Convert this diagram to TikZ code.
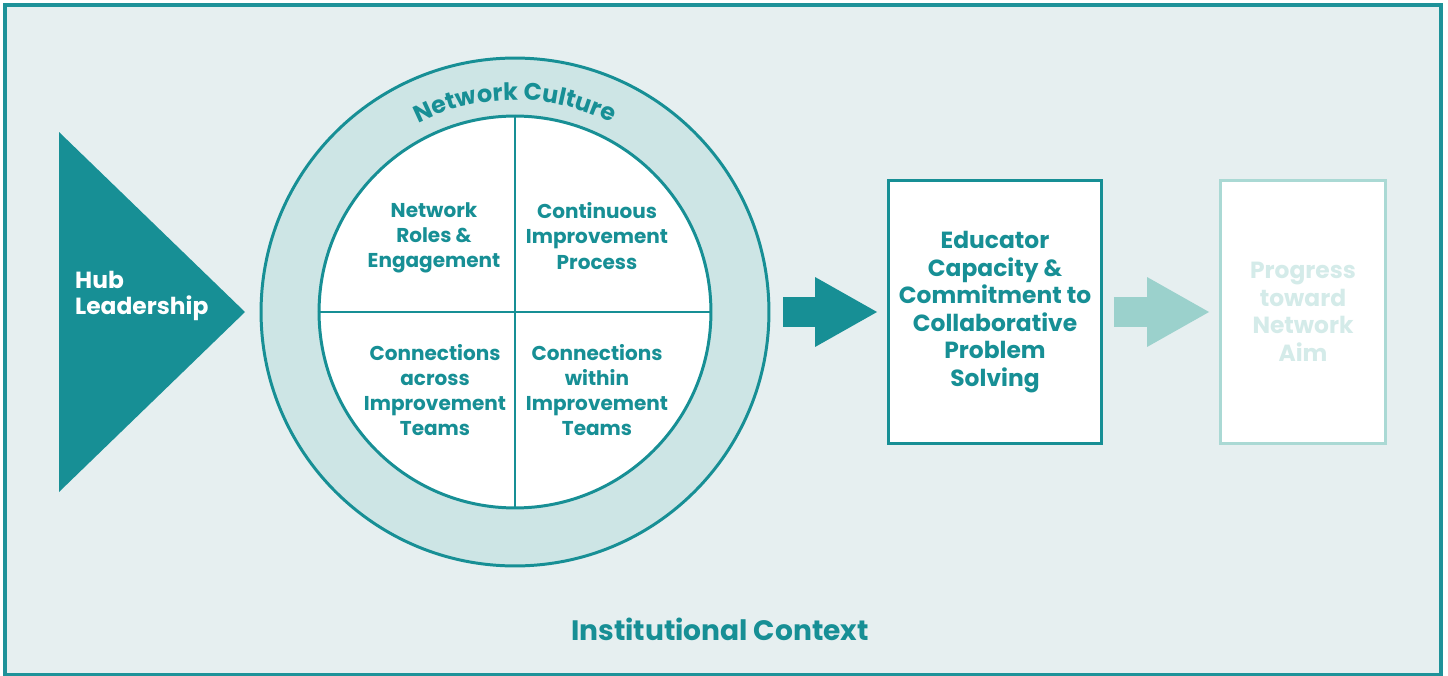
\documentclass[tikz,border=0pt]{standalone}
\usepackage{fontspec}
\setmainfont{Poppins}
\usetikzlibrary{arrows.meta,decorations.text}

\definecolor{hubteal}{RGB}{23,143,149}
\definecolor{framecol}{RGB}{30,146,153}
\definecolor{ctxbg}{RGB}{230,239,240}
\definecolor{ringfill}{RGB}{205,229,229}
\definecolor{fadeteal}{RGB}{155,209,204}
\definecolor{fadeline}{RGB}{170,217,212}
\definecolor{fadetext}{RGB}{212,235,233}

\tikzset{
  quad/.style={align=center, text=hubteal, font=\bfseries\fontsize{11.4}{14.3}\selectfont},
  outbox/.style={fill=white, line width=1.7pt, minimum height=5.28cm, align=center,
    font=\bfseries\fontsize{13.3}{15.7}\selectfont},
  bigarrow/.style={line width=0.62cm, -{Triangle[length=1.24cm,width=1.4cm,line width=0pt]}},
}

\begin{document}
\begin{tikzpicture}[x=0.02cm,y=0.02cm]

  \useasboundingbox (0,0) rectangle (1448,-676);
  \fill[white] (0,0) rectangle (1448,-676);
  \draw[framecol, fill=ctxbg, line width=1.8pt] (5,-5) rectangle (1441,-675);

  % hub leadership wedge
  \fill[hubteal] (59,-132) -- (245,-312) -- (59,-492) -- cycle;
  \node[anchor=west, align=left, text=white, font=\bfseries\fontsize{13.3}{15.3}\selectfont]
    (hub) at (69,-296) {Hub\\Leadership};

  % network culture ring
  \node[circle, draw=hubteal, fill=ringfill, line width=1.7pt, inner sep=0pt,
    minimum size=10.16cm] (ring) at (515,-312) {};
  \node[circle, draw=hubteal, fill=white, line width=1.7pt, inner sep=0pt,
    minimum size=7.84cm] (core) at (515,-312) {};
  \draw[hubteal, line width=1.7pt] (core.north) -- (core.south);
  \draw[hubteal, line width=1.7pt] (core.west) -- (core.east);
  \path[decorate, decoration={text along path, text align=center, text color=hubteal,
    text={|\bfseries\fontsize{13.6}{14}\selectfont|Network Culture}}]
    (ring.center) ++(150:212) arc[start angle=150, end angle=30, radius=212];

  \node[quad] (roles) at (434,-238) {Network\\Roles \&\\Engagement};
  \node[quad] (cip) at (597,-236) {Continuous\\Improvement\\Process};
  \node[quad] (across) at (435,-390) {Connections\\across\\Improvement\\Teams};
  \node[quad] (within) at (597,-390) {Connections\\within\\Improvement\\Teams};

  % outcomes
  \node[outbox, draw=hubteal, text=hubteal, minimum width=4.26cm] (edu) at (995,-312)
    {Educator\\Capacity \&\\Commitment to\\Collaborative\\Problem\\Solving};
  \node[outbox, draw=fadeline, text=fadetext, minimum width=3.3cm] (prog) at (1303,-312)
    {Progress\\toward\\Network\\Aim};

  \draw[bigarrow, hubteal, shorten <=0.26cm, shorten >=0.2cm] (ring) -- (edu);
  \draw[bigarrow, fadeteal, shorten <=0.22cm, shorten >=0.2cm] (edu) -- (prog);

  \node[text=hubteal, font=\bfseries\fontsize{16}{20}\selectfont] (ctx) at (720,-629)
    {Institutional Context};

\end{tikzpicture}
\end{document}
